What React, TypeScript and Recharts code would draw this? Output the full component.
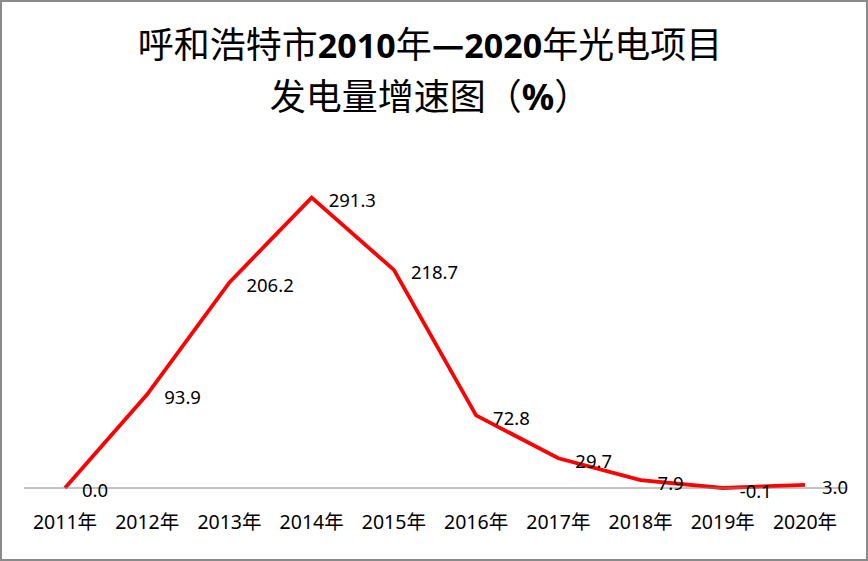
import React from 'react';
import { LineChart, Line, XAxis, YAxis } from 'recharts';

const years = ['2011年', '2012年', '2013年', '2014年', '2015年', '2016年', '2017年', '2018年', '2019年', '2020年'];
const growth = [0.0, 93.9, 206.2, 291.3, 218.7, 72.8, 29.7, 7.9, -0.1, 3.0];

const data = years.map((year, i) => ({ year, growth: growth[i] }));

const numFont = '"Noto Sans", "Noto Sans CJK SC", sans-serif';
const cjkFont = '"Noto Sans CJK SC", "Noto Sans", sans-serif';

function renderLabel(props: any) {
  const { x, y, value } = props;
  return (
    <text
      x={x + 17}
      y={y + 2}
      dominantBaseline="central"
      textAnchor="start"
      fontSize={18.5}
      fontFamily={numFont}
      fill="#000"
    >
      {Number(value).toFixed(1)}
    </text>
  );
}

const digit: React.CSSProperties = { fontFamily: numFont, fontWeight: 700, fontSize: 34 };

export default function App() {
  return (
    <div style={{ position: 'absolute', left: 0, top: 0, width: 868, height: 561, background: '#fff' }}>
      <LineChart width={868} height={561} data={data} margin={{ top: 159, right: 22, left: 24, bottom: 33 }}>
        <XAxis
          dataKey="year"
          height={40}
          padding={{ left: 41, right: 41 }}
          axisLine={{ stroke: '#868686', strokeWidth: 1 }}
          tickLine={false}
          tickSize={0}
          tickMargin={27}
          interval={0}
          tick={{ fill: '#000', fontSize: 19.5, fontFamily: numFont }}
        />
        <YAxis hide domain={[0, 330]} />
        <Line
          dataKey="growth"
          stroke="#ff0000"
          strokeWidth={3.8}
          dot={false}
          activeDot={false}
          label={renderLabel}
          isAnimationActive={false}
        />
      </LineChart>
      <div
        style={{
          position: 'absolute',
          left: 0,
          top: 18,
          width: 860,
          textAlign: 'center',
          fontFamily: cjkFont,
          fontSize: 36,
          lineHeight: '49px',
          color: '#000',
          whiteSpace: 'nowrap',
        }}
      >
        <div>
          呼和浩特市<span style={digit}>2010</span>年<span style={{ fontWeight: 700 }}>—</span>
          <span style={digit}>2020</span>年光电项目
        </div>
        <div>
          发电量增速图（<span style={{ ...digit, fontSize: 36 }}>%</span>）
        </div>
      </div>
      <div
        style={{
          position: 'absolute',
          left: 0,
          top: 0,
          width: 868,
          height: 561,
          boxSizing: 'border-box',
          border: '2px solid #8a8a8a',
          pointerEvents: 'none',
        }}
      />
    </div>
  );
}
